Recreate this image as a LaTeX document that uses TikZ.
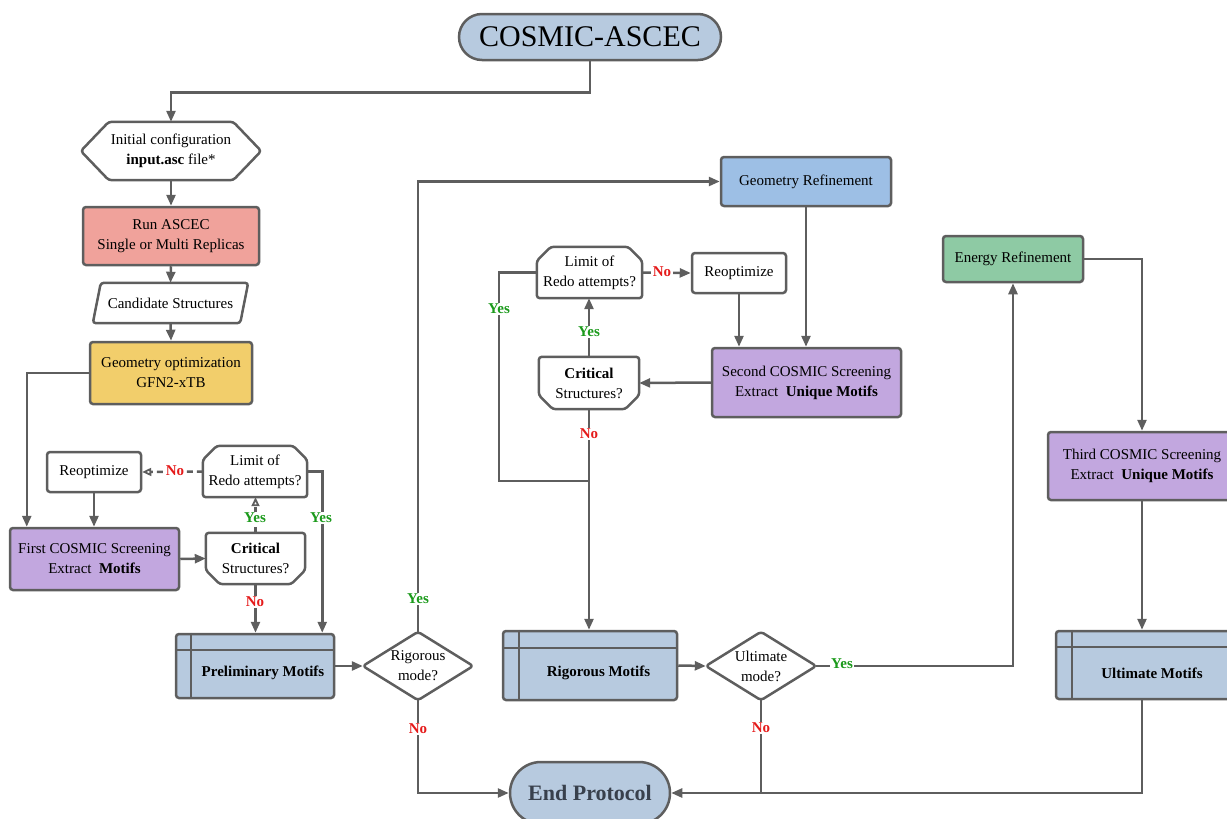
\documentclass[tikz,border=0pt]{standalone}
\usepackage{fontspec}
\setmainfont{Liberation Serif}
\usetikzlibrary{arrows.meta,calc}
\definecolor{linegray}{HTML}{5E5E5E}
\definecolor{steel}{HTML}{B7CADF}
\definecolor{georef}{HTML}{9DBFE5}
\definecolor{salmon}{HTML}{F0A29B}
\definecolor{mustard}{HTML}{F2CE6B}
\definecolor{lilac}{HTML}{C2A7DF}
\definecolor{mint}{HTML}{8ECAA4}
\definecolor{yesgreen}{HTML}{1B9A1B}
\definecolor{nored}{HTML}{E51A1A}
\definecolor{endtext}{HTML}{38404C}
\tikzset{
  base/.style={inner sep=0pt, align=center, font=\fontsize{15}{20}\selectfont},
  box/.style={base, draw=linegray, line width=2.5pt, rounded corners=3pt},
  ghost/.style={base, draw=none},
  outline/.style={draw=linegray, line width=2.5pt, rounded corners=3pt, line join=round},
  conn/.style={draw=linegray, line width=2.5pt, -{Triangle[length=11pt,width=9pt]}},
  plain/.style={draw=linegray, line width=2.5pt},
  dconn/.style={draw=linegray, line width=2.5pt, dash pattern=on 6pt off 4pt, -{Triangle[open,length=9pt,width=8pt,line width=1.8pt]}},
  yes/.style={base, fill=white, inner sep=1.5pt, text=yesgreen, font=\fontsize{15}{16}\selectfont\bfseries},
  no/.style={base, fill=white, inner sep=1.5pt, text=nored, font=\fontsize{15}{16}\selectfont\bfseries},
  storebox/.style={box, fill=steel},
}
\begin{document}
\begin{tikzpicture}[x=1pt,y=-1pt]
\useasboundingbox (0,0) rectangle (1227,819);

% ---------- nodes ----------
\node[box, fill=steel, minimum width=262pt, minimum height=46pt, rounded corners=23pt,
      font=\fontsize{30}{32}\selectfont] (start) at (590,37) {COSMIC-ASCEC};

\node[ghost, minimum width=180pt, minimum height=58pt] (init) at (171,151)
  {Initial configuration\\\textbf{input.asc} file*};
\draw[outline] (init.west) -- ([xshift=28pt]init.north west) -- ([xshift=-28pt]init.north east)
  -- (init.east) -- ([xshift=-28pt]init.south east) -- ([xshift=28pt]init.south west) -- cycle;

\node[box, fill=salmon, minimum width=176pt, minimum height=58pt] (run) at (171,236)
  {Run ASCEC\\Single or Multi Replicas};

\node[ghost, minimum width=155pt, minimum height=40pt] (cand) at (170.5,303) {Candidate Structures};
\draw[outline] ([xshift=8pt]cand.north west) -- (cand.north east) -- ([xshift=-8pt]cand.south east)
  -- (cand.south west) -- cycle;

\node[box, fill=mustard, minimum width=162pt, minimum height=62pt] (geo) at (171,373)
  {Geometry optimization\\GFN2-xTB};

\node[box, minimum width=94pt, minimum height=40pt] (reoA) at (94,472) {Reoptimize};

\node[box, fill=lilac, minimum width=169pt, minimum height=62pt] (first) at (94.5,559)
  {First COSMIC Screening\\Extract\ \ \textbf{Motifs}};

\node[ghost, minimum width=104pt, minimum height=51pt] (limA) at (255,471.5)
  {Limit of\\Redo attempts?};
\draw[outline] (limA.south west) -- ([yshift=-14pt]limA.north west) -- ([xshift=14pt]limA.north west)
  -- ([xshift=-14pt]limA.north east) -- ([yshift=-14pt]limA.north east) -- (limA.south east) -- cycle;

\node[ghost, minimum width=99pt, minimum height=51pt] (critA) at (255.5,558.5)
  {\textbf{Critical}\\Structures?};
\draw[outline] (critA.north west) -- (critA.north east) -- ([yshift=14pt]critA.south east)
  -- ([xshift=-14pt]critA.south east) -- ([xshift=14pt]critA.south west) -- ([yshift=14pt]critA.south west) -- cycle;

\node[storebox, minimum width=158pt, minimum height=64pt] (prelim) at (255,666) {};
\draw[plain] ([xshift=16pt]prelim.north west) -- ([xshift=16pt]prelim.south west);
\draw[plain] ([yshift=-17pt]prelim.north west) -- ([yshift=-17pt]prelim.north east);
\node[base, font=\fontsize{15}{20}\selectfont\bfseries] (prelimT) at (263,673) {Preliminary Motifs};

\node[ghost, minimum width=110pt, minimum height=68pt] (rig) at (418,666) {Rigorous\\mode?};
\draw[outline] (rig.north) -- (rig.east) -- (rig.south) -- (rig.west) -- cycle;

\node[box, fill=georef, minimum width=170pt, minimum height=49pt] (gref) at (806,181.5)
  {Geometry Refinement};

\node[ghost, minimum width=105pt, minimum height=51pt] (limB) at (589.5,272.5)
  {Limit of\\Redo attempts?};
\draw[outline] (limB.south west) -- ([yshift=-14pt]limB.north west) -- ([xshift=14pt]limB.north west)
  -- ([xshift=-14pt]limB.north east) -- ([yshift=-14pt]limB.north east) -- (limB.south east) -- cycle;

\node[box, minimum width=94pt, minimum height=40pt] (reoB) at (739,273) {Reoptimize};

\node[ghost, minimum width=100pt, minimum height=52pt] (critB) at (589,383)
  {\textbf{Critical}\\Structures?};
\draw[outline] (critB.north west) -- (critB.north east) -- ([yshift=14pt]critB.south east)
  -- ([xshift=-14pt]critB.south east) -- ([xshift=14pt]critB.south west) -- ([yshift=14pt]critB.south west) -- cycle;

\node[box, fill=lilac, minimum width=189pt, minimum height=69pt] (sec) at (806.5,382.5)
  {Second COSMIC Screening\\Extract\ \ \textbf{Unique Motifs}};

\node[storebox, minimum width=174pt, minimum height=69pt] (rigm) at (590,665.5) {};
\draw[plain] ([xshift=17pt]rigm.north west) -- ([xshift=17pt]rigm.south west);
\draw[plain] ([yshift=-18pt]rigm.north west) -- ([yshift=-18pt]rigm.north east);
\node[base, font=\fontsize{15}{20}\selectfont\bfseries] (rigmT) at (598.5,673) {Rigorous Motifs};

\node[ghost, minimum width=110pt, minimum height=68pt] (ult) at (761,666) {Ultimate\\mode?};
\draw[outline] (ult.north) -- (ult.east) -- (ult.south) -- (ult.west) -- cycle;

\node[box, fill=mint, minimum width=140pt, minimum height=46pt] (en) at (1013,259)
  {Energy Refinement};

\node[box, fill=lilac, minimum width=188pt, minimum height=68pt] (third) at (1142,466)
  {Third COSMIC Screening\\Extract\ \ \textbf{Unique Motifs}};

\node[storebox, minimum width=176pt, minimum height=68pt] (ultm) at (1144,665) {};
\draw[plain] ([xshift=17pt]ultm.north west) -- ([xshift=17pt]ultm.south west);
\draw[plain] ([yshift=-17pt]ultm.north west) -- ([yshift=-17pt]ultm.north east);
\node[base, font=\fontsize{15}{20}\selectfont\bfseries] (ultmT) at (1152,673) {Ultimate Motifs};

\node[box, fill=steel, minimum width=160pt, minimum height=62pt, rounded corners=31pt,
      text=endtext, font=\fontsize{22}{24}\selectfont\bfseries] (endp) at (590,793) {End Protocol};

\coordinate (joinB) at (589,481);

% ---------- connectors ----------
\draw[conn] (start.south) -- ++(0,31) -| (init.north);
\draw[conn] (init.south) -- (run.north);
\draw[conn] (run.south) -- (cand.north);
\draw[conn] (cand.south) -- (geo.north);
\draw[conn] (geo.west) -| ([xshift=18pt]first.north west);
\draw[conn] (reoA.south) -- (reoA.south |- first.north);
\draw[conn] (first.east) -- (critA.west);
\draw[dconn] (critA.north) -- (critA.north |- limA.south);
\draw[dconn] (limA.west) -- (reoA.east);
\draw[conn] (limA.east) -| ([xshift=-13pt]prelim.north east);
\draw[conn] (critA.south) -- (critA.south |- prelim.north);
\draw[conn] (prelim.east) -- (rig.west);
\draw[conn] (rig.north) |- (gref.west);
\draw[conn] (rig.south) |- (endp.west);
\draw[conn] (gref.south) -- (gref.south |- sec.north);
\draw[conn] (reoB.south) -- (reoB.south |- sec.north);
\draw[conn] (sec.west) -- (critB.east);
\draw[conn] (critB.north) -- (critB.north |- limB.south);
\draw[conn] (limB.east) -- (reoB.west);
\draw[conn] (critB.south) -- (critB.south |- rigm.north);
\draw[plain] (limB.west) -- ++(-38,0) |- (joinB);
\draw[conn] (rigm.east) -- (ult.west);
\draw[conn] (ult.east) -| (en.south);
\draw[plain] (ult.south) -- (ult.south |- endp.east);
\draw[conn] (en.east) -| (third.north);
\draw[conn] (third.south) -- (third.south |- ultm.north);
\draw[conn] (third.south |- ultm.south) |- (endp.east);

% ---------- connector labels ----------
\node[no]  (lNoA)   at (175,471) {No};
\node[yes] (lYesA)  at (255,518) {Yes};
\node[yes] (lYesA2) at (321,518) {Yes};
\node[no]  (lNoA2)  at (255,602) {No};
\node[yes] (lYesR)  at (418,599) {Yes};
\node[no]  (lNoR)   at (418,729) {No};
\node[no]  (lNoB)   at (662,272) {No};
\node[yes] (lYesB)  at (589,332) {Yes};
\node[no]  (lNoB2)  at (589,434) {No};
\node[yes] (lYesB2) at (499,309) {Yes};
\node[yes] (lYesU)  at (842,664) {Yes};
\node[no]  (lNoU)   at (761,728) {No};
\end{tikzpicture}
\end{document}
